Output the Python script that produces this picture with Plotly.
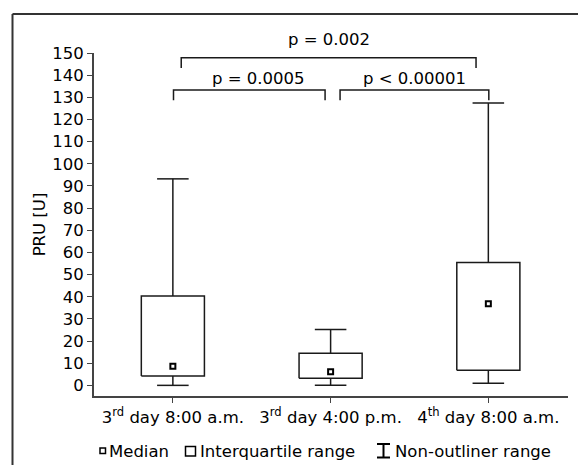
import plotly.graph_objects as go

# ---- data ----
categories = ["3<sup>rd</sup> day 8:00 a.m.", "3<sup>rd</sup> day 4:00 p.m.", "4<sup>th</sup> day 8:00 a.m."]
whisker_low = [0.0, 0.0, 1.0]
q1 = [4.2, 3.2, 6.8]
median = [8.6, 6.2, 36.8]
q3 = [40.3, 14.5, 55.5]
whisker_high = [93.2, 25.2, 127.4]

# comparisons: (from index, to index, label, bracket height)
comp_from = [0, 0, 1]
comp_to = [2, 1, 2]
comp_label = ["p = 0.002", "p = 0.0005", "p < 0.00001"]
comp_level = [147.8, 133.3, 133.3]

yticks = list(range(0, 151, 10))

# page body has an 8px default margin; work in screen pixels and convert
OFF = 8
W, H = 570, 457
ML, MR, MT, MB = 86, 10, 45, 69
PW, PH = W - ML - MR, H - MT - MB

def px_x(p):
    return (p - OFF - ML) / PW

def px_y(p):
    return (H - MB - (p - OFF)) / PH

FONT = "DejaVu Sans, Verdana, sans-serif"
FS = 16.5
LC = "#1a1a1a"
BOXW = 0.40
CAPW = 0.20

fig = go.Figure()

# boxes, whiskers, caps
for i in range(len(categories)):
    xl, xr = i - BOXW / 2, i + BOXW / 2
    fig.add_trace(go.Scatter(
        x=[xl, xr, xr, xl, xl], y=[q1[i], q1[i], q3[i], q3[i], q1[i]],
        mode="lines", line=dict(color=LC, width=1.5), fill="toself",
        fillcolor="white", hoverinfo="skip", showlegend=False))
    fig.add_trace(go.Scatter(
        x=[i, i, None, i, i, None, i - CAPW / 2, i + CAPW / 2, None, i - CAPW / 2, i + CAPW / 2],
        y=[q3[i], whisker_high[i], None, q1[i], whisker_low[i], None,
           whisker_high[i], whisker_high[i], None, whisker_low[i], whisker_low[i]],
        mode="lines", line=dict(color=LC, width=1.5), hoverinfo="skip", showlegend=False))

fig.add_trace(go.Scatter(
    x=list(range(len(categories))), y=median, mode="markers",
    marker=dict(symbol="square-open", size=5, color="black", line=dict(width=2, color="black")),
    showlegend=False))

# significance brackets
inset = {(0, 2): (0.053, -0.078), (0, 1): (0.004, -0.035), (1, 2): (0.06, 0.003)}
text_x = {(0, 2): 0.99, (0, 1): 0.54, (1, 2): 1.533}
text_shift = {(0, 2): 7, (0, 1): 0, (1, 2): 0}
drop = 4.6
for a, b, lab, lev in zip(comp_from, comp_to, comp_label, comp_level):
    da, db = inset[(a, b)]
    xa, xb = a + da, b + db
    fig.add_trace(go.Scatter(
        x=[xa, xa, xb, xb], y=[lev - drop, lev, lev, lev - drop],
        mode="lines", line=dict(color=LC, width=1.5), hoverinfo="skip",
        showlegend=False, cliponaxis=False))
    fig.add_annotation(x=text_x[(a, b)], y=lev, text=lab, showarrow=False,
                       yanchor="bottom", yshift=text_shift[(a, b)],
                       font=dict(size=FS, color="black", family=FONT))

fig.update_xaxes(
    range=[-0.5, 2.505], tickvals=list(range(len(categories))), ticktext=categories,
    showline=True, linecolor="#444", linewidth=2, ticks="outside", ticklen=5,
    tickcolor="#444", tickwidth=1, showgrid=False, zeroline=False,
    tickfont=dict(size=FS, color="black", family=FONT))
fig.update_yaxes(
    range=[-4.8, 150], tickvals=yticks, showline=True, linecolor="#444", linewidth=2,
    ticks="outside", ticklen=5, tickcolor="#444", tickwidth=1, showgrid=False, zeroline=False,
    tickfont=dict(size=FS, color="black", family=FONT),
    title=dict(text="PRU [U]", font=dict(size=FS, color="black", family=FONT), standoff=2))

# outer frame (top and left edges visible)
fig.add_shape(type="line", xref="paper", yref="paper", x0=px_x(12.5), x1=px_x(600),
              y0=px_y(14), y1=px_y(14), line=dict(color="#333", width=2))
fig.add_shape(type="line", xref="paper", yref="paper", x0=px_x(12.5), x1=px_x(12.5),
              y0=px_y(14), y1=px_y(490), line=dict(color="#333", width=2))

# custom legend
ly = 451
fig.add_shape(type="rect", xref="paper", yref="paper", x0=px_x(100), x1=px_x(105.5),
              y0=px_y(453.5), y1=px_y(448), line=dict(color="black", width=1.5))
fig.add_annotation(xref="paper", yref="paper", x=px_x(106.5), y=px_y(ly), text="Median",
                   showarrow=False, xanchor="left", yanchor="middle",
                   font=dict(size=FS, color="black", family=FONT))
fig.add_shape(type="rect", xref="paper", yref="paper", x0=px_x(185.5), x1=px_x(195.5),
              y0=px_y(456), y1=px_y(446.5), line=dict(color="black", width=1.5))
fig.add_annotation(xref="paper", yref="paper", x=px_x(198), y=px_y(ly), text="Interquartile range",
                   showarrow=False, xanchor="left", yanchor="middle",
                   font=dict(size=FS, color="black", family=FONT))
for seg in [(377, 390, 444, 444), (377, 390, 457.5, 457.5), (383.5, 383.5, 444, 457.5)]:
    fig.add_shape(type="line", xref="paper", yref="paper", x0=px_x(seg[0]), x1=px_x(seg[1]),
                  y0=px_y(seg[2]), y1=px_y(seg[3]), line=dict(color="black", width=2))
fig.add_annotation(xref="paper", yref="paper", x=px_x(393), y=px_y(ly), text="Non-outliner range",
                   showarrow=False, xanchor="left", yanchor="middle",
                   font=dict(size=FS, color="black", family=FONT))

fig.update_layout(
    width=W, height=H, margin=dict(l=ML, r=MR, t=MT, b=MB, pad=0),
    paper_bgcolor="white", plot_bgcolor="white", showlegend=False,
    font=dict(family=FONT, color="black"))

fig.write_html("out.html")
